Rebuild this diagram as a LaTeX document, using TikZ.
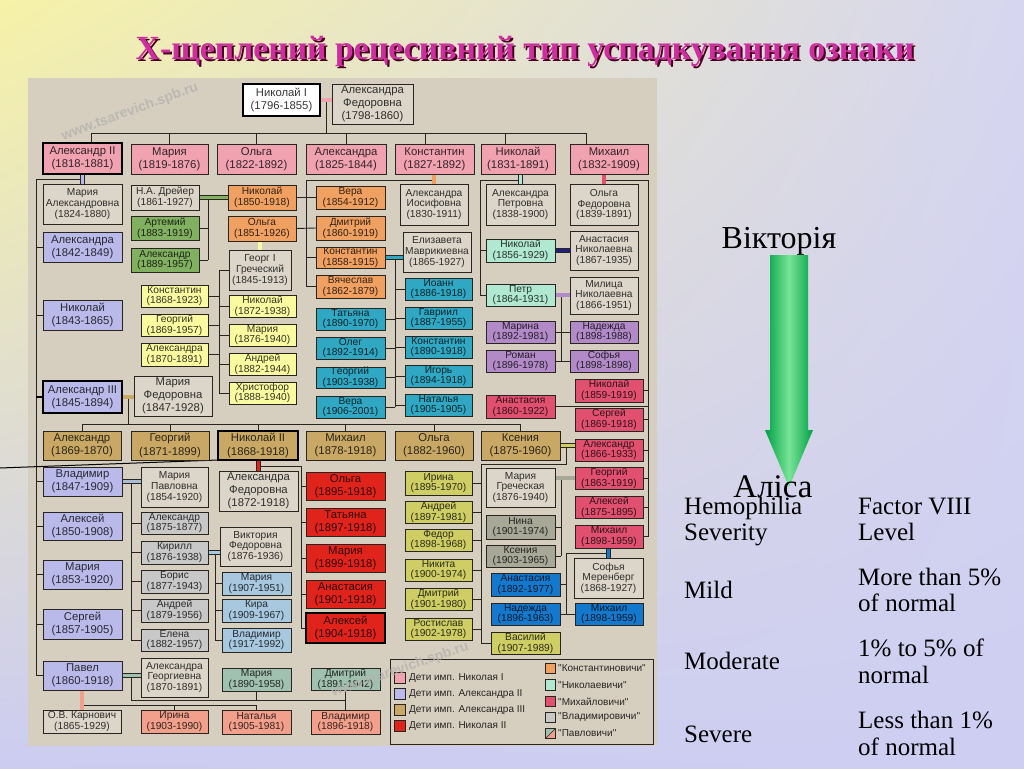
\documentclass[tikz,border=0pt]{standalone}
\usepackage{fontspec}
\setmainfont{Liberation Serif}
\newfontfamily\chartfont{Liberation Sans}
\usetikzlibrary{calc,shadings}
\pgfdeclarelayer{bgl}\pgfdeclarelayer{lnl}\pgfsetlayers{bgl,lnl,main}
\definecolor{chartbg}{RGB}{214,207,192}
\definecolor{spC}{RGB}{220,214,202}
\definecolor{lineC}{RGB}{40,36,32}
\definecolor{pinkC}{RGB}{240,162,176}
\definecolor{lavC}{RGB}{186,186,234}
\definecolor{tanC}{RGB}{200,168,100}
\definecolor{redC}{RGB}{224,36,28}
\definecolor{orangeC}{RGB}{240,160,96}
\definecolor{mintC}{RGB}{176,232,210}
\definecolor{roseC}{RGB}{226,80,112}
\definecolor{greyC}{RGB}{200,200,200}
\definecolor{sageC}{RGB}{160,192,176}
\definecolor{salmonC}{RGB}{242,160,140}
\definecolor{yellowC}{RGB}{250,250,160}
\definecolor{greenC}{RGB}{128,176,96}
\definecolor{tealC}{RGB}{48,168,196}
\definecolor{purpleC}{RGB}{178,138,200}
\definecolor{oliveC}{RGB}{206,206,100}
\definecolor{dgreyC}{RGB}{168,168,152}
\definecolor{blueC}{RGB}{20,120,204}
\definecolor{lblueC}{RGB}{168,200,224}
\definecolor{vlC}{RGB}{168,192,208}
\definecolor{navyC}{RGB}{32,32,128}
\definecolor{titleC}{RGB}{206,46,160}
\definecolor{titleS}{RGB}{70,0,30}
\definecolor{arrowD}{RGB}{0,160,70}
\definecolor{arrowL}{RGB}{120,228,150}
\definecolor{bgUL}{RGB}{246,242,168}
\definecolor{bgUR}{RGB}{214,214,240}
\definecolor{bgLL}{RGB}{204,204,242}
\definecolor{bgLR}{RGB}{206,206,242}
\definecolor{wmC}{RGB}{182,178,174}
\newcommand\bx[8][]{\node[bx,fill=#7,text=#7!22!black,#1,minimum width={(#5-#3)*1pt},minimum height={(#6-#4)*1pt}] (#2) at ({(#3+#5)/2},{(#4+#6)/2}) {#8};}
\begin{document}
\begin{tikzpicture}[x=1pt,y=-1pt,
 bx/.style={draw=lineC,line width=0.8pt,inner sep=0pt,outer sep=0pt,align=center,font=\chartfont\fontsize{10.2}{10.6}\selectfont},
 big/.style={font=\chartfont\fontsize{11.3}{13.2}\selectfont},
 tk/.style={line width=2.6pt,draw=black},
 ln/.style={draw=lineC,line width=0.9pt},
 mc/.style={draw=lineC,line width=0.6pt,double=#1,double distance=3.6pt},
 wm/.style={font=\chartfont\bfseries\fontsize{14}{14}\selectfont,text=wmC,opacity=0.8},
 lgt/.style={anchor=west,inner sep=0pt,font=\chartfont\fontsize{10}{11}\selectfont,text=lineC},
 sw/.style={draw=lineC,line width=0.7pt,minimum size=10.5pt,inner sep=0pt,outer sep=0pt},
 rt/.style={anchor=base west,inner sep=0pt,font=\fontsize{25}{25}\selectfont,text=black},
 ttl/.style={font=\bfseries\fontsize{33.8}{34}\selectfont,inner sep=0pt}
]
\useasboundingbox (0,0) rectangle (1024,768);
\begin{pgfonlayer}{bgl}
\shade[upper left=bgUL,upper right=bgUR,lower left=bgLL,lower right=bgLR] (0,0) rectangle (1024,768);
\fill[chartbg] (28,78) rectangle (657,746);
\end{pgfonlayer}

% title (with its drop shadow)
\node[ttl,text=titleS] at (527,54) {Х-щеплений рецесивний тип успадкування ознаки};
\node[ttl,text=titleC] (title) at (525,52) {Х-щеплений рецесивний тип успадкування ознаки};

% row 0
\bx[tk,big]{n1}{243}{84}{320}{116}{white}{Николай I\\(1796-1855)}
\bx[big]{af}{332}{84}{413}{124}{spC}{Александра\\Федоровна\\(1798-1860)}
% row 1
\bx[tk,big]{a2}{43}{143}{122}{174}{pinkC}{Александр II\\(1818-1881)}
\bx[big]{m1}{131}{144}{208}{174}{pinkC}{Мария\\(1819-1876)}
\bx[big]{o1}{217}{144}{296}{174}{pinkC}{Ольга\\(1822-1892)}
\bx[big]{al1}{306}{144}{386}{174}{pinkC}{Александра\\(1825-1844)}
\bx[big]{k1}{395}{144}{474}{174}{pinkC}{Константин\\(1827-1892)}
\bx[big]{ni1}{481}{144}{555}{174}{pinkC}{Николай\\(1831-1891)}
\bx[big]{mi1}{570}{144}{648}{174}{pinkC}{Михаил\\(1832-1909)}
% Alexander II family
\bx{ma}{43}{184}{122}{224}{spC}{Мария\\Александровна\\(1824-1880)}
\bx[big]{cal}{43}{232}{122}{262}{lavC}{Александра\\(1842-1849)}
\bx[big]{cni}{43}{300}{122}{330}{lavC}{Николай\\(1843-1865)}
\bx[tk,big]{a3}{43}{381}{122}{413}{lavC}{Александр III\\(1845-1894)}
\bx[big]{cvl}{43}{467}{122}{496}{lavC}{Владимир\\(1847-1909)}
\bx[big]{cale}{43}{512}{122}{540}{lavC}{Алексей\\(1850-1908)}
\bx[big]{cmar}{43}{560}{122}{589}{lavC}{Мария\\(1853-1920)}
\bx[big]{cser}{43}{609}{122}{639}{lavC}{Сергей\\(1857-1905)}
\bx[big]{cpav}{43}{661}{122}{690}{lavC}{Павел\\(1860-1918)}
% Nikolai K + Dreyer
\bx{dr}{131}{185}{199}{210}{spC}{Н.А. Дрейер\\(1861-1927)}
\bx{kon}{228}{185}{296}{210}{orangeC}{Николай\\(1850-1918)}
\bx{ar}{131}{216}{199}{240}{greenC}{Артемий\\(1883-1919)}
\bx{alg}{131}{248}{199}{272}{greenC}{Александр\\(1889-1957)}
% Konstantin
\bx{ai}{400}{184}{468}{225}{spC}{Александра\\Иосифовна\\(1830-1911)}
\bx{koo}{228}{216}{296}{241}{orangeC}{Ольга\\(1851-1926)}
\bx{ve}{316}{186}{385}{209}{orangeC}{Вера\\(1854-1912)}
\bx{dm}{316}{216}{385}{240}{orangeC}{Дмитрий\\(1860-1919)}
\bx{kk}{316}{247}{385}{268}{orangeC}{Константин\\(1858-1915)}
\bx{vy}{316}{275}{385}{298}{orangeC}{Вячеслав\\(1862-1879)}
% Greek
\bx{gg}{229}{250}{291}{290}{spC}{Георг I\\Греческий\\(1845-1913)}
\bx{gk}{141}{285}{208}{307}{yellowC}{Константин\\(1868-1923)}
\bx{gge}{141}{314}{208}{336}{yellowC}{Георгий\\(1869-1957)}
\bx{ga}{141}{343}{208}{366}{yellowC}{Александра\\(1870-1891)}
\bx{gn}{229}{295}{296}{317}{yellowC}{Николай\\(1872-1938)}
\bx{gm}{229}{324}{296}{346}{yellowC}{Мария\\(1876-1940)}
\bx{gan}{229}{353}{296}{375}{yellowC}{Андрей\\(1882-1944)}
\bx{xr}{229}{382}{296}{404}{yellowC}{Христофор\\(1888-1940)}
% Konstantin jr
\bx{em}{403}{232}{471}{272}{spC}{Елизавета\\Маврикиевна\\(1865-1927)}
\bx{ta}{316}{308}{385}{330}{tealC}{Татьяна\\(1890-1970)}
\bx{ol}{316}{337}{385}{359}{tealC}{Олег\\(1892-1914)}
\bx{ge}{316}{367}{385}{388}{tealC}{Георгий\\(1903-1938)}
\bx{ve2}{316}{396}{385}{418}{tealC}{Вера\\(1906-2001)}
\bx{io}{405}{278}{472}{300}{tealC}{Иоанн\\(1886-1918)}
\bx{gav}{405}{307}{472}{329}{tealC}{Гавриил\\(1887-1955)}
\bx{ko2}{405}{336}{472}{358}{tealC}{Константин\\(1890-1918)}
\bx{ig}{405}{365}{472}{387}{tealC}{Игорь\\(1894-1918)}
\bx{nat}{405}{394}{472}{416}{tealC}{Наталья\\(1905-1905)}
% Nikolaevichi
\bx{ap}{486}{184}{555}{225}{spC}{Александра\\Петровна\\(1838-1900)}
\bx{nn}{486}{239}{555}{262}{mintC}{Николай\\(1856-1929)}
\bx{pe}{486}{284}{555}{306}{mintC}{Петр\\(1864-1931)}
\bx{an}{570}{231}{638}{270}{spC}{Анастасия\\Николаевна\\(1867-1935)}
\bx{mn}{570}{277}{638}{314}{spC}{Милица\\Николаевна\\(1866-1951)}
\bx{mr}{486}{321}{555}{343}{purpleC}{Марина\\(1892-1981)}
\bx{ro}{486}{350}{555}{372}{purpleC}{Роман\\(1896-1978)}
\bx{nd}{570}{321}{638}{343}{purpleC}{Надежда\\(1898-1988)}
\bx{so}{570}{350}{638}{372}{purpleC}{Софья\\(1898-1898)}
% Mikhailovichi
\bx{of}{570}{184}{638}{225}{spC}{Ольга\\Федоровна\\(1839-1891)}
\bx{mn1}{575}{379}{643}{402}{roseC}{Николай\\(1859-1919)}
\bx{ana}{486}{395}{555}{418}{roseC}{Анастасия\\(1860-1922)}
\bx{ms}{575}{408}{643}{431}{roseC}{Сергей\\(1869-1918)}
\bx{mal2}{575}{439}{643}{461}{roseC}{Александр\\(1866-1933)}
\bx{mg}{575}{467}{643}{489}{roseC}{Георгий\\(1863-1919)}
\bx{mle}{575}{496}{643}{518}{roseC}{Алексей\\(1875-1895)}
\bx{mm}{575}{525}{643}{548}{roseC}{Михаил\\(1898-1959)}
\bx{sm}{574}{558}{643}{598}{spC}{Софья\\Меренберг\\(1868-1927)}
\bx{as}{491}{573}{560}{596}{blueC}{Анастасия\\(1892-1977)}
\bx{nad}{491}{603}{560}{625}{blueC}{Надежда\\(1896-1963)}
\bx{mm2}{575}{603}{643}{625}{blueC}{Михаил\\(1898-1959)}
% Alexander III
\bx[big]{mf}{134}{376}{212}{416}{spC}{Мария\\Федоровна\\(1847-1928)}
\bx[big]{tal}{43}{431}{121}{460}{tanC}{Александр\\(1869-1870)}
\bx[big]{tge}{131}{431}{209}{460}{tanC}{Георгий\\(1871-1899)}
\bx[tk,big]{n2}{218}{431}{298}{460}{tanC}{Николай II\\(1868-1918)}
\bx[big]{tmi}{306}{431}{385}{460}{tanC}{Михаил\\(1878-1918)}
\bx[big]{tol}{395}{431}{473}{460}{tanC}{Ольга\\(1882-1960)}
\bx[big]{ks}{481}{431}{560}{460}{tanC}{Ксения\\(1875-1960)}
% Nicholas II
\bx[big]{afd}{219}{471}{298}{511}{spC}{Александра\\Федоровна\\(1872-1918)}
\bx[big]{rol}{306}{472}{385}{500}{redC}{Ольга\\(1895-1918)}
\bx[big]{rta}{306}{508}{385}{536}{redC}{Татьяна\\(1897-1918)}
\bx[big]{rma}{306}{544}{385}{572}{redC}{Мария\\(1899-1918)}
\bx[big]{ran}{306}{580}{385}{608}{redC}{Анастасия\\(1901-1918)}
\bx[tk,big]{ral}{306}{613}{385}{643}{redC}{Алексей\\(1904-1918)}
% Kseniya
\bx{ir}{405}{471}{472}{495}{oliveC}{Ирина\\(1895-1970)}
\bx{and}{405}{501}{472}{523}{oliveC}{Андрей\\(1897-1981)}
\bx{fe}{405}{529}{472}{551}{oliveC}{Федор\\(1898-1968)}
\bx{nk}{405}{559}{472}{581}{oliveC}{Никита\\(1900-1974)}
\bx{dmi}{405}{588}{472}{610}{oliveC}{Дмитрий\\(1901-1980)}
\bx{ros}{405}{618}{472}{640}{oliveC}{Ростислав\\(1902-1978)}
\bx{va}{491}{632}{560}{654}{oliveC}{Василий\\(1907-1989)}
% Maria Grecheskaya
\bx{mgr}{486}{468}{555}{507}{spC}{Мария\\Греческая\\(1876-1940)}
\bx{nin}{486}{515}{555}{539}{dgreyC}{Нина\\(1901-1974)}
\bx{ksx}{486}{545}{555}{567}{dgreyC}{Ксения\\(1903-1965)}
% Vladimir
\bx{mp}{141}{467}{208}{507}{spC}{Мария\\Павловна\\(1854-1920)}
\bx{val}{141}{512}{208}{534}{greyC}{Александр\\(1875-1877)}
\bx{ki}{141}{541}{208}{564}{greyC}{Кирилл\\(1876-1938)}
\bx{bo}{141}{570}{208}{593}{greyC}{Борис\\(1877-1943)}
\bx{van}{141}{599}{208}{622}{greyC}{Андрей\\(1879-1956)}
\bx{el}{141}{629}{208}{651}{greyC}{Елена\\(1882-1957)}
\bx{vf}{220}{527}{291}{566}{spC}{Виктория\\Федоровна\\(1876-1936)}
\bx{km}{222}{572}{291}{595}{lblueC}{Мария\\(1907-1951)}
\bx{kr}{222}{599}{291}{622}{lblueC}{Кира\\(1909-1967)}
\bx{kv}{222}{628}{291}{652}{lblueC}{Владимир\\(1917-1992)}
% Pavel
\bx{ag}{141}{658}{208}{697}{spC}{Александра\\Георгиевна\\(1870-1891)}
\bx{pm}{222}{668}{291}{691}{sageC}{Мария\\(1890-1958)}
\bx{pd}{311}{668}{380}{690}{sageC}{Дмитрий\\(1891-1942)}
\bx{ka}{43}{710}{121}{733}{spC}{О.В. Карнович\\(1865-1929)}
\bx{pi}{141}{710}{208}{733}{salmonC}{Ирина\\(1903-1990)}
\bx{pn}{222}{710}{291}{734}{salmonC}{Наталья\\(1905-1981)}
\bx{pv}{311}{710}{380}{734}{salmonC}{Владимир\\(1896-1918)}

% legend
\node[draw=lineC,line width=0.9pt,minimum width=263pt,minimum height=85pt,inner sep=0pt,outer sep=0pt] (lg) at (521.5,701.5) {};
\node[sw,fill=pinkC] (s1) at (400,678) {};
\node[lgt] (t1) at (409,678) {Дети имп. Николая I};
\node[sw,fill=lavC] (s2) at (400,694) {};
\node[lgt] (t2) at (409,694) {Дети имп. Александра II};
\node[sw,fill=tanC] (s3) at (400,710) {};
\node[lgt] (t3) at (409,710) {Дети имп. Александра III};
\node[sw,fill=redC] (s4) at (400,726) {};
\node[lgt] (t4) at (409,726) {Дети имп. Николая II};
\node[sw,fill=orangeC] (s5) at (550.5,668.5) {};
\node[lgt] (t5) at (558,668.5) {"Константиновичи"};
\node[sw,fill=mintC] (s6) at (550.5,685) {};
\node[lgt] (t6) at (558,685) {"Николаевичи"};
\node[sw,fill=roseC] (s7) at (550.5,701.5) {};
\node[lgt] (t7) at (558,701.5) {"Михайловичи"};
\node[sw,fill=greyC] (s8) at (550.5,717.5) {};
\node[lgt] (t8) at (558,717.5) {"Владимировичи"};
\node[sw] (s9) at (550.5,733.5) {};
\node[lgt] (t9) at (558,733.5) {"Павловичи"};

\begin{pgfonlayer}{lnl}
\fill[sageC] (s9.north west) -- (s9.north east) -- (s9.south west) -- cycle;
\fill[salmonC] (s9.north east) -- (s9.south east) -- (s9.south west) -- cycle;
\draw[lineC,line width=0.6pt] (s9.south west) -- (s9.north east);
% Nicholas I
\coordinate (n1m) at (326,100);
\coordinate (busL) at (91,133);
\coordinate (busR) at (586,133);
\draw[ln] (n1m) -- (n1m |- busL);
\draw[ln] (busL) -- (busR);
\draw[ln] (busL) -- (busL |- a2.north);
\draw[ln] (m1.north) -- (m1.north |- busL);
\draw[ln] (o1.north) -- (o1.north |- busL);
\draw[ln] (al1.north) -- (al1.north |- busL);
\coordinate (tk1) at (425,133); \draw[ln] (tk1) -- (tk1 |- k1.north);
\coordinate (tk2) at (505,133); \draw[ln] (tk2) -- (tk2 |- ni1.north);
\draw[ln] (busR) -- (busR |- mi1.north);
\draw[mc=pinkC] (n1.east) -- (n1.east -| af.west);
% Alexander II
\coordinate (a2b) at (82.5,179); \coordinate (a2v) at (36,179);
\draw[ln] (a2b) -- (a2v) -- (a2v |- cpav.west);
\foreach \c in {cal,cni,cvl,cale,cmar,cser,cpav} \draw[ln] (\c.west) -- (\c.west -| a2v);
\draw[line width=2.4pt,black] (a3.west) -- (a3.west -| a2v);
\draw[mc=lavC] (a2.south) -- (ma.north);
% Dreyer
\coordinate (drb) at (208,197.5);
\draw[ln] (drb) -- (drb |- alg.east);
\draw[ln] (ar.east) -- (ar.east -| drb);
\draw[ln] (alg.east) -- (alg.east -| drb);
\draw[mc=greenC] (kon.west) -- (kon.west -| dr.east);
% Konstantin
\coordinate (kb) at (306,180);
\draw[ln] (ai.north |- kb) -- (kb) -- (kb |- vy.west);
\draw[ln] (kon.east) -- (ve.west);
\draw[ln] (koo.east) -- (dm.west);
\draw[ln] (kk.west) -- (kk.west -| kb);
\draw[ln] (vy.west) -- (vy.west -| kb);
\draw[mc=orangeC] (ai.north) -- (ai.north |- k1.south);
% Greek
\coordinate (gb) at (219,270);
\draw[ln] (gg.west) -- (gb) -- (gb |- xr.west);
\foreach \c in {gk,gge,ga} \draw[ln] (\c.east) -- (\c.east -| gb);
\foreach \c in {gn,gm,gan,xr} \draw[ln] (\c.west) -- (\c.west -| gb);
\draw[mc=yellowC] (gg.north) -- (gg.north |- koo.south);
% Konstantin jr
\coordinate (eb) at (395,257.5);
\draw[ln] (eb) -- (eb |- ve2.east);
\foreach \c in {ta,ol,ge,ve2} \draw[ln] (\c.east) -- (\c.east -| eb);
\foreach \c in {io,gav,ko2,ig,nat} \draw[ln] (\c.west) -- (\c.west -| eb);
\draw[mc=tealC] (kk.east) -- (kk.east -| em.west);
% Nikolaevichi
\coordinate (nb) at (480,180);
\draw[ln] (ap.north |- nb) -- (nb) -- (nb |- pe.west);
\draw[ln] (nn.west) -- (nn.west -| nb);
\draw[ln] (pe.west) -- (pe.west -| nb);
\draw[mc=mintC] (ap.north) -- (ap.north |- ni1.south);
\draw[mc=navyC] (nn.east) -- (nn.east -| an.west);
\coordinate (pb) at (561,295);
\draw[ln] (pb) -- (pb |- ro.east);
\draw[ln] (mr.east) -- (nd.west);
\draw[ln] (ro.east) -- (so.west);
\draw[mc=purpleC] (pe.east) -- (pe.east -| mn.west);
% Mikhailovichi
\coordinate (mb) at (648,180);
\draw[ln] (of.north |- mb) -- (mb) -- (mb |- mm.east);
\foreach \c in {mn1,ms,mal2,mg,mle,mm} \draw[ln] (\c.east) -- (\c.east -| mb);
\draw[ln] (ana.east) -- (ana.east -| mb);
\draw[mc=roseC] (of.north) -- (of.north |- mi1.south);
\coordinate (sb) at (566,553);
\draw[ln] (sm.north |- sb) -- (sb) -- (sb |- nad.east);
\draw[ln] (as.east) -- (as.east -| sb);
\draw[ln] (nad.east) -- (mm2.west);
\draw[mc=blueC] (sm.north) -- (sm.north |- mm.south);
% Alexander III
\coordinate (a3b) at (128,397); \coordinate (a3h) at (128,424);
\draw[ln] (a3b) -- (a3h);
\draw[ln] (tal.north |- a3h) -- (ks.north |- a3h);
\foreach \c in {tal,tge,n2,tmi,tol,ks} \draw[ln] (\c.north) -- (\c.north |- a3h);
\draw[mc=tanC] (a3.east) -- (a3.east -| mf.west);
% Nicholas II
\coordinate (nb2) at (301,466);
\draw[ln] (afd.north |- nb2) -- (nb2) -- (nb2 |- ral.west);
\foreach \c in {rol,rta,rma,ran,ral} \draw[ln] (\c.west) -- (\c.west -| nb2);
\draw[mc=redC] (afd.north) -- (afd.north |- n2.south);
% Kseniya
\coordinate (kx) at (566,445.5); \coordinate (kb1) at (566,464); \coordinate (kb2) at (481,464);
\draw[ln] (kx) -- (kb1) -- (kb2) -- (kb2 |- va.west);
\foreach \c in {ir,and,fe,nk,dmi,ros} \draw[ln] (\c.east) -- (\c.east -| kb2);
\draw[ln] (va.west) -- (va.west -| kb2);
\draw[mc=oliveC] (ks.east) -- (ks.east -| mal2.west);
% Maria Grecheskaya
\coordinate (gbb) at (561,478);
\draw[ln] (gbb) -- (gbb |- ksx.east);
\draw[ln] (nin.east) -- (nin.east -| gbb);
\draw[ln] (ksx.east) -- (ksx.east -| gbb);
\draw[mc=dgreyC] (mg.west) -- (mg.west -| mgr.east);
% Vladimir
\coordinate (vb) at (131,481.5);
\draw[ln] (vb) -- (vb |- el.west);
\foreach \c in {val,ki,bo,van,el} \draw[ln] (\c.west) -- (\c.west -| vb);
\draw[mc=vlC] (cvl.east) -- (cvl.east -| mp.west);
\coordinate (kib) at (215,552.5);
\draw[ln] (kib) -- (kib |- kv.west);
\foreach \c in {km,kr,kv} \draw[ln] (\c.west) -- (\c.west -| kib);
\draw[mc=lblueC] (ki.east) -- (ki.east -| vf.west);
% Pavel
\coordinate (pab) at (131,675.5); \coordinate (pah) at (131,700);
\draw[ln] (pab) -- (pah) -- (pah -| pd.south);
\draw[ln] (pm.south) -- (pm.south |- pah);
\draw[ln] (pd.south) -- (pv.north);
\draw[mc=sageC] (cpav.east) -- (cpav.east -| ag.west);
\coordinate (kab) at (82,705);
\draw[ln] (kab) -- (kab -| pn.north);
\draw[ln] (pi.north) -- (pi.north |- kab);
\draw[ln] (pn.north) -- (pn.north |- kab);
\draw[mc=salmonC] (ka.north) -- (ka.north |- cpav.south);
% pointer
\coordinate (ptr) at (0,468);
\draw[line width=1pt,black] (ptr) -- (n2.south west);
\end{pgfonlayer}

% watermarks
\node[wm,rotate=20] (wm1) at (130,112) {www.tsarevich.spb.ru};
\node[wm,rotate=19] (wm2) at (400,670) {www.tsarevich.spb.ru};

% right side
\node[font=\fontsize{32}{32}\selectfont,anchor=base,inner sep=0pt] (vik) at (779,248) {Вікторія};
\shade[left color=arrowD,right color=arrowD,middle color=arrowL] (770,255) -- (808,255) -- (808,430) -- (813,430) -- (789,487) -- (765,430) -- (770,430) -- cycle;
\node[font=\fontsize{33}{33}\selectfont,anchor=base,inner sep=0pt] (ali) at (773,497) {Аліса};

\node[rt] (h1) at (684,514) {Hemophilia};
\node[rt] (h2) at (684,540) {Severity};
\node[rt] (f1) at (858,514) {Factor VIII};
\node[rt] (f2) at (858,540) {Level};
\node[rt] (r1) at (684,598) {Mild};
\node[rt] (r1a) at (858,585) {More than 5\%};
\node[rt] (r1b) at (858,611) {of normal};
\node[rt] (r2) at (684,669) {Moderate};
\node[rt] (r2a) at (858,656) {1\% to 5\% of};
\node[rt] (r2b) at (858,683) {normal};
\node[rt] (r3) at (684,742) {Severe};
\node[rt] (r3a) at (858,728) {Less than 1\%};
\node[rt] (r3b) at (858,755) {of normal};
\end{tikzpicture}
\end{document}
